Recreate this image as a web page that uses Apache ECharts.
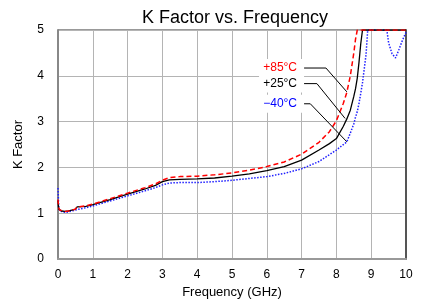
<!DOCTYPE html>
<html>
<head>
<meta charset="utf-8">
<script src="https://cdn.jsdelivr.net/npm/echarts@6/dist/echarts.min.js"></script>
<style>
  html, body { margin: 0; padding: 0; background: #fff; }
  #chart { width: 433px; height: 304px; }
</style>
</head>
<body>
<div id="chart"></div>
<script>
// frequency points (GHz), shared by all three curves
var freq = [0, 0.02, 0.05, 0.1, 0.2, 0.3, 0.4, 0.5, 0.55, 0.6,
            0.8, 1, 1.5, 2, 2.5, 2.8, 3, 3.2, 3.5, 4,
            4.5, 5, 5.5, 6, 6.5, 7, 7.5, 7.8, 8, 8.2,
            8.3, 8.4, 8.5, 8.55, 8.6, 8.65, 8.7, 8.75, 8.8, 8.85,
            8.9, 9, 9.2, 9.45, 9.5, 9.6, 9.7, 9.8, 9.9, 10];

// K factor, +85°C
var k85 = [1.30, 1.12, 1.07, 1.05, 1.04, 1.05, 1.07, 1.09, 1.14, 1.12,
           1.16, 1.20, 1.32, 1.44, 1.56, 1.64, 1.72, 1.78, 1.80, 1.81,
           1.84, 1.88, 1.94, 2.02, 2.12, 2.29, 2.55, 2.78, 3.02, 3.40,
           3.64, 4.00, 4.50, 4.80, 5, 5, 5, 5, 5, 5,
           5, 5, 5, 5, 5, 5, 5, 5, 5, 5];

// K factor, +25°C
var k25 = [1.28, 1.09, 1.06, 1.05, 1.04, 1.05, 1.07, 1.09, 1.14, 1.12,
           1.15, 1.19, 1.30, 1.42, 1.53, 1.61, 1.69, 1.73, 1.74, 1.75,
           1.77, 1.81, 1.86, 1.93, 2.02, 2.16, 2.38, 2.52, 2.63, 2.90,
           3.06, 3.25, 3.55, 3.72, 3.95, 4.30, 4.70, 5, 5, 5,
           5, 5, 5, 5, 5, 5, 5, 5, 5, 5];

// K factor, -40°C
var k40 = [1.55, 1.15, 1.05, 1.03, 1.02, 1.03, 1.05, 1.07, 1.08, 1.09,
           1.12, 1.16, 1.27, 1.38, 1.49, 1.56, 1.62, 1.66, 1.67, 1.67,
           1.69, 1.72, 1.76, 1.80, 1.87, 1.97, 2.13, 2.28, 2.38, 2.50,
           2.56, 2.75, 2.95, 3.10, 3.22, 3.40, 3.62, 3.85, 4.15, 4.45,
           5, 5, 5, 5, 4.72, 4.48, 4.39, 4.58, 4.78, 4.95];

var xTicks = [0, 1, 2, 3, 4, 5, 6, 7, 8, 9, 10];
var yTicks = [0, 1, 2, 3, 4, 5];

// callout labels and their leader lines (in data units)
var calloutText = ['+85°C', '+25°C', '\u221240°C'];
var calloutColor = ['#ff0000', '#000000', '#0000ff'];
var leader85 = [[7.07, 4.17], [7.70, 4.17], [8.30, 3.65]];
var leader25 = [[7.07, 3.83], [7.44, 3.83], [8.25, 3.07]];
var leader40 = [[7.07, 3.39], [7.25, 3.39], [8.30, 2.56]];

function pairs(xs, ys) {
  var out = [];
  for (var i = 0; i < xs.length; i++) out.push([xs[i], ys[i]]);
  return out;
}

function leaderSeries(pts, idx) {
  var data = pts.map(function (p, i) {
    if (i === 0) {
      return {
        value: p,
        label: {
          show: true,
          position: 'left',
          distance: 0,
          formatter: calloutText[idx],
          color: calloutColor[idx],
          fontSize: 12,
          fontFamily: 'Liberation Sans, Arial, sans-serif',
          backgroundColor: '#ffffff',
          padding: [3, 7, 3, 4]
        }
      };
    }
    return { value: p };
  });
  return {
    type: 'line',
    data: data,
    symbol: 'circle',
    symbolSize: 0,
    showSymbol: true,
    silent: true,
    z: 5,
    lineStyle: { color: '#000', width: 1 },
    itemStyle: { color: '#000' }
  };
}

var font = 'Liberation Sans, Arial, sans-serif';
var chart = echarts.init(document.getElementById('chart'));

chart.setOption({
  animation: false,
  title: {
    text: 'K Factor vs. Frequency',
    left: 142,
    top: 9,
    padding: 0,
    textStyle: { fontSize: 18, fontWeight: 'normal', color: '#000', fontFamily: font }
  },
  grid: {
    left: 58, right: 27, top: 30, bottom: 44,
    show: true,
    borderColor: '#333',
    borderWidth: 1
  },
  xAxis: {
    type: 'value',
    min: 0, max: 10, interval: 1,
    name: 'Frequency (GHz)',
    nameLocation: 'middle',
    nameGap: 25,
    nameTextStyle: { fontSize: 13, color: '#000', fontFamily: font },
    axisLine: { show: true, lineStyle: { color: '#999', width: 2 } },
    axisTick: { show: false },
    axisLabel: {
      margin: 10, fontSize: 12, color: '#000', fontFamily: font,
      formatter: function (v) { return xTicks.indexOf(v) >= 0 ? String(v) : ''; }
    },
    splitLine: { show: true, lineStyle: { color: '#b4b4b4', width: 1 } }
  },
  yAxis: [{
    type: 'value',
    min: 0, max: 5, interval: 1,
    name: 'K Factor',
    nameLocation: 'middle',
    nameGap: 33,
    nameTextStyle: { fontSize: 13, color: '#000', fontFamily: font },
    axisLine: { show: true, lineStyle: { color: '#888', width: 2 } },
    axisTick: { show: false },
    axisLabel: {
      margin: 14, fontSize: 12, color: '#000', fontFamily: font,
      formatter: function (v) { return yTicks.indexOf(v) >= 0 ? String(v) : ''; }
    },
    splitLine: { show: true, lineStyle: { color: '#b4b4b4', width: 1 } }
  }, {
    type: 'value',
    position: 'right',
    min: 0, max: 5, interval: 1,
    axisLine: { show: true, lineStyle: { color: '#555', width: 2 } },
    axisTick: { show: false },
    axisLabel: { show: false },
    splitLine: { show: false }
  }],
  series: [
    {
      name: '-40°C',
      type: 'line',
      data: pairs(freq, k40),
      showSymbol: false,
      lineStyle: { color: '#1f1fff', width: 1.5, type: [1.5, 1.5] },
      z: 2
    },
    {
      name: '+25°C',
      type: 'line',
      data: pairs(freq, k25),
      showSymbol: false,
      lineStyle: { color: '#000', width: 1.3 },
      z: 3
    },
    {
      name: '+85°C',
      type: 'line',
      data: pairs(freq, k85),
      showSymbol: false,
      lineStyle: { color: '#ff0000', width: 1.5, type: [5, 3] },
      z: 4
    },
    leaderSeries(leader85, 0),
    leaderSeries(leader25, 1),
    leaderSeries(leader40, 2)
  ]
});
</script>
</body>
</html>
